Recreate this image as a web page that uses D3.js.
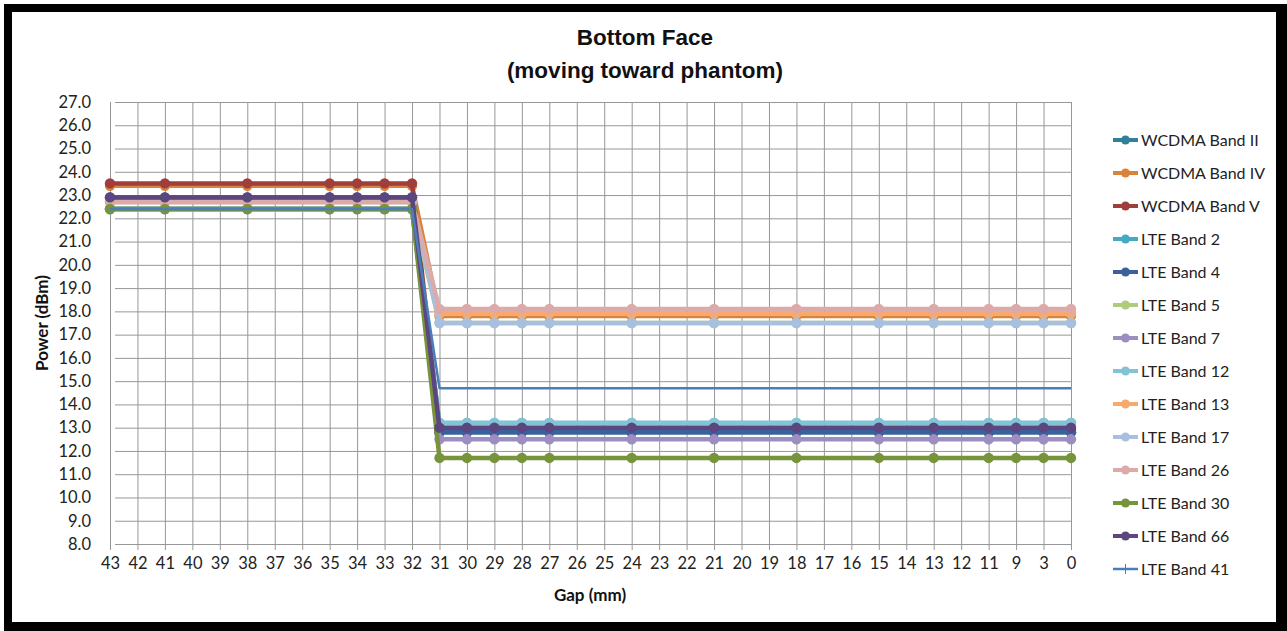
<!DOCTYPE html>
<html>
<head>
<meta charset="utf-8">
<script src="https://cdn.jsdelivr.net/npm/d3@7.9.0/dist/d3.min.js"></script>
<style>
  body { margin: 0; background: #fff; }
  svg { display: block; font-family: Lato, "Open Sans", sans-serif; }
</style>
</head>
<body>
<div id="chart"></div>
<script>
// x axis categories (gap in mm), as printed on the axis
const categories = ['43','42','41','40','39','38','37','36','35','34','33','32','31','30','29','28','27',
  '26','25','24','23','22','21','20','19','18','17','16','15','14','13','12','11','9','3','0'];

// gaps where a measurement exists
const measured = ['43','41','38','35','34','33','32','31','30','29','28','27','24','21','18','15','13','11','9','3','0'];

const wcdmaII  = [22.4,22.4,22.4,22.4,22.4,22.4,22.4, 12.8,12.8,12.8,12.8,12.8,12.8,12.8,12.8,12.8,12.8,12.8,12.8,12.8,12.8];
const wcdmaIV  = [23.4,23.4,23.4,23.4,23.4,23.4,23.4, 17.8,17.8,17.8,17.8,17.8,17.8,17.8,17.8,17.8,17.8,17.8,17.8,17.8,17.8];
const wcdmaV   = [23.5,23.5,23.5,23.5,23.5,23.5,23.5, 12.9,12.9,12.9,12.9,12.9,12.9,12.9,12.9,12.9,12.9,12.9,12.9,12.9,12.9];
const lte2     = [22.4,22.4,22.4,22.4,22.4,22.4,22.4, 13.2,13.2,13.2,13.2,13.2,13.2,13.2,13.2,13.2,13.2,13.2,13.2,13.2,13.2];
const lte4     = [22.9,22.9,22.9,22.9,22.9,22.9,22.9, 12.8,12.8,12.8,12.8,12.8,12.8,12.8,12.8,12.8,12.8,12.8,12.8,12.8,12.8];
const lte5     = [22.4,22.4,22.4,22.4,22.4,22.4,22.4, 17.5,17.5,17.5,17.5,17.5,17.5,17.5,17.5,17.5,17.5,17.5,17.5,17.5,17.5];
const lte7     = [22.4,22.4,22.4,22.4,22.4,22.4,22.4, 12.5,12.5,12.5,12.5,12.5,12.5,12.5,12.5,12.5,12.5,12.5,12.5,12.5,12.5];
const lte12    = [22.4,22.4,22.4,22.4,22.4,22.4,22.4, 13.2,13.2,13.2,13.2,13.2,13.2,13.2,13.2,13.2,13.2,13.2,13.2,13.2,13.2];
const lte13    = [22.7,22.7,22.7,22.7,22.7,22.7,22.7, 17.9,17.9,17.9,17.9,17.9,17.9,17.9,17.9,17.9,17.9,17.9,17.9,17.9,17.9];
const lte17    = [22.7,22.7,22.7,22.7,22.7,22.7,22.7, 17.5,17.5,17.5,17.5,17.5,17.5,17.5,17.5,17.5,17.5,17.5,17.5,17.5,17.5];
const lte26    = [22.7,22.7,22.7,22.7,22.7,22.7,22.7, 18.1,18.1,18.1,18.1,18.1,18.1,18.1,18.1,18.1,18.1,18.1,18.1,18.1,18.1];
const lte30    = [22.4,22.4,22.4,22.4,22.4,22.4,22.4, 11.7,11.7,11.7,11.7,11.7,11.7,11.7,11.7,11.7,11.7,11.7,11.7,11.7,11.7];
const lte66    = [22.9,22.9,22.9,22.9,22.9,22.9,22.9, 13.0,13.0,13.0,13.0,13.0,13.0,13.0,13.0,13.0,13.0,13.0,13.0,13.0,13.0];
const lte41    = [22.4,22.4,22.4,22.4,22.4,22.4,22.4, 14.7,14.7,14.7,14.7,14.7,14.7,14.7,14.7,14.7,14.7,14.7,14.7,14.7,14.7];

const seriesNames = ['WCDMA Band II','WCDMA Band IV','WCDMA Band V','LTE Band 2','LTE Band 4','LTE Band 5',
  'LTE Band 7','LTE Band 12','LTE Band 13','LTE Band 17','LTE Band 26','LTE Band 30','LTE Band 66','LTE Band 41'];
const seriesValues = [wcdmaII, wcdmaIV, wcdmaV, lte2, lte4, lte5, lte7, lte12, lte13, lte17, lte26, lte30, lte66, lte41];
const seriesColors = ['#31809a','#d8843c','#a03e3b','#46a9c3','#3a619c','#aecb7e','#9d8ec2','#82c3d4',
  '#f8a96e','#a9bfdf','#dcaaa9','#77933c','#5c467f','#4a7ebb'];

const yTicks = d3.range(8, 27.01, 1);

const series = seriesNames.map((name, i) => ({
  name,
  color: seriesColors[i],
  marker: name !== 'LTE Band 41',
  points: measured.map((g, j) => ({ gap: g, value: seriesValues[i][j] }))
}));

const width = 1287, height = 631;
const plot = { left: 110, right: 1071, top: 102, bottom: 544 };

const svg = d3.select('#chart').append('svg')
  .attr('width', width).attr('height', height);

// black frame
svg.append('rect').attr('x', 4).attr('y', 4).attr('width', width - 4).attr('height', height - 4).attr('fill', '#000');
svg.append('rect').attr('x', 12).attr('y', 12).attr('width', 1264).attr('height', 610).attr('fill', '#fff');

const x = d3.scalePoint().domain(categories).range([plot.left, plot.right]);
const y = d3.scaleLinear().domain([8, 27]).range([plot.bottom, plot.top]);

// gridlines
svg.append('g')
  .attr('transform', `translate(${plot.left},0)`)
  .call(d3.axisLeft(y).tickValues(yTicks).tickFormat('').tickSize(-(plot.right - plot.left)).tickSizeOuter(0))
  .call(g => g.select('.domain').remove())
  .call(g => g.selectAll('line').attr('stroke', '#979797').attr('x1', 5));

svg.append('g')
  .attr('transform', `translate(0,${plot.bottom})`)
  .call(d3.axisBottom(x).tickFormat('').tickSize(-(plot.bottom - plot.top)).tickSizeOuter(0))
  .call(g => g.select('.domain').remove())
  .call(g => g.selectAll('line').attr('stroke', '#979797').attr('y1', 6));

// axes labels
svg.append('g')
  .attr('transform', `translate(${plot.left},0)`)
  .call(d3.axisLeft(y).tickValues(yTicks).tickFormat(d3.format('.1f')).tickSize(0).tickPadding(19))
  .call(g => g.select('.domain').remove())
  .call(g => g.selectAll('text').attr('font-size', 16.5).attr('fill', '#222').attr('font-family', 'Lato, sans-serif'));

svg.append('g')
  .attr('transform', `translate(0,${plot.bottom})`)
  .call(d3.axisBottom(x).tickSize(0).tickPadding(13))
  .call(g => g.select('.domain').remove())
  .call(g => g.selectAll('text').attr('font-size', 16.5).attr('fill', '#222').attr('font-family', 'Lato, sans-serif'));

// series
const line = d3.line().x(d => x(d.gap)).y(d => y(d.value));
const gSeries = svg.append('g');
series.forEach(s => {
  const g = gSeries.append('g');
  g.append('path')
    .attr('d', line(s.points))
    .attr('fill', 'none')
    .attr('stroke', s.color)
    .attr('stroke-width', s.marker ? 4.5 : 2.5)
    .attr('stroke-linejoin', 'round');
  if (s.marker) {
    g.selectAll('circle').data(s.points).join('circle')
      .attr('cx', d => x(d.gap))
      .attr('cy', d => y(d.value))
      .attr('r', 5.2)
      .attr('fill', s.color);
  }
});

// titles
const titleFont = '"Liberation Sans", Arial, sans-serif';
svg.append('text').attr('x', 645).attr('y', 45).attr('text-anchor', 'middle').attr('font-family', titleFont)
  .attr('font-size', 22.5).attr('font-weight', 'bold').attr('fill', '#111').text('Bottom Face');
svg.append('text').attr('x', 645).attr('y', 78).attr('text-anchor', 'middle').attr('font-family', titleFont)
  .attr('font-size', 22.5).attr('font-weight', 'bold').attr('fill', '#111').text('(moving toward phantom)');

svg.append('text').attr('x', 590).attr('y', 601).attr('text-anchor', 'middle')
  .attr('font-size', 17).attr('font-weight', 'bold').attr('fill', '#111').text('Gap (mm)');
svg.append('text')
  .attr('transform', 'translate(48,323) rotate(-90)')
  .attr('text-anchor', 'middle')
  .attr('font-size', 17).attr('font-weight', 'bold').attr('fill', '#111').text('Power (dBm)');

// legend
const legend = svg.append('g').attr('transform', 'translate(1113,140)');
const item = legend.selectAll('g').data(series).join('g')
  .attr('transform', (d, i) => `translate(0,${i * 33})`);
item.append('line').attr('x1', 0).attr('x2', 25).attr('y1', 0).attr('y2', 0)
  .attr('stroke', d => d.color).attr('stroke-width', d => d.marker ? 4 : 2.5);
item.filter(d => d.marker).append('circle').attr('cx', 12.5).attr('cy', 0).attr('r', 4.5).attr('fill', d => d.color);
item.filter(d => !d.marker).append('line').attr('x1', 12.5).attr('x2', 12.5).attr('y1', -5).attr('y2', 5)
  .attr('stroke', d => d.color).attr('stroke-width', 1);
item.append('text').attr('x', 28).attr('y', 5.5)
  .attr('font-size', 16).attr('fill', '#222').text(d => d.name);
</script>
</body>
</html>
